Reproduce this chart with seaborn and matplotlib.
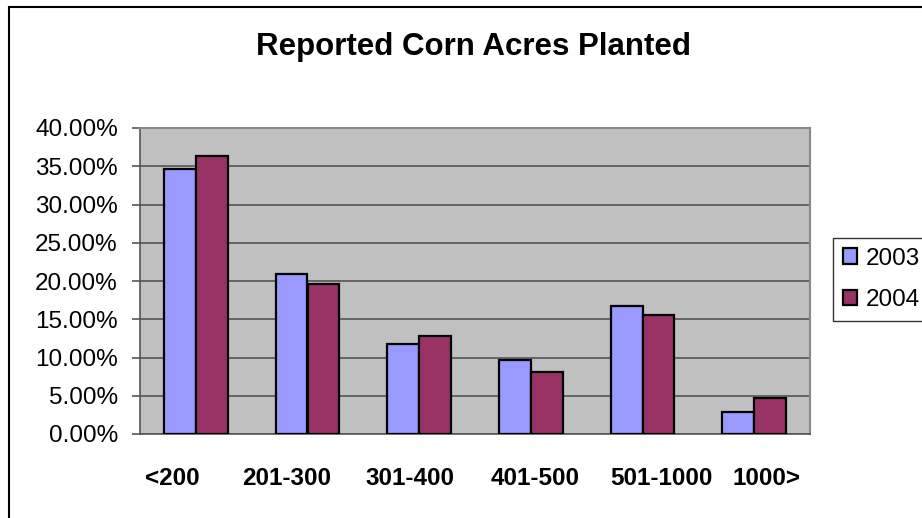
import matplotlib
matplotlib.use("Agg")
import matplotlib.pyplot as plt
import matplotlib.transforms as mtransforms
import seaborn as sns
import pandas as pd
from matplotlib.patches import Rectangle

categories = ["<200", "201-300", "301-400", "401-500", "501-1000", "1000>"]
values_2003 = [34.7, 20.9, 11.8, 9.7, 16.7, 2.9]
values_2004 = [36.3, 19.6, 12.8, 8.15, 15.5, 4.7]
series = ["2003", "2004"]
yticks = [0, 5, 10, 15, 20, 25, 30, 35, 40]

df = pd.DataFrame({
    "cat": categories * 2,
    "year": [series[0]] * len(categories) + [series[1]] * len(categories),
    "val": values_2003 + values_2004,
})

sns.set_theme(style="white")
plt.rcParams["font.family"] = ["Liberation Sans", "DejaVu Sans"]
plt.rcParams["text.color"] = "black"
plt.rcParams["xtick.color"] = "black"
plt.rcParams["ytick.color"] = "black"

fig = plt.figure(figsize=(9.22, 5.18), dpi=100)
ax = fig.add_axes([140 / 922, 1 - 434 / 518, (810 - 140) / 922, (434 - 128) / 518])

sns.barplot(data=df, x="cat", y="val", hue="year", order=categories,
            hue_order=series, palette=["#9999FF", "#993366"], saturation=1,
            width=0.57, edgecolor="black", linewidth=1.6, ax=ax, zorder=3)

ax.set_facecolor("#C0C0C0")
ax.set_ylim(0, 40)
ax.set_xlim(-0.5, len(categories) - 0.5)
ax.set_yticks(yticks)
ax.set_yticklabels([f"{v:.2f}%" for v in yticks], fontsize=17.5)
ax.yaxis.grid(True, color="#555555", linewidth=1.2, zorder=0)
ax.set_axisbelow(True)
ax.tick_params(axis="y", direction="out", length=6, width=1.2,
               left=True, pad=10, labelcolor="black")
ax.tick_params(axis="y", color="#555555")
ax.tick_params(axis="x", length=0, pad=23.5, labelcolor="black")

# Excel-style uneven label placement (pixel offsets from group centres)
label_dx_px = [-24, -20.5, -9, 4, 19, 12]
for lbl, dx in zip(ax.get_xticklabels(), label_dx_px):
    lbl.set_fontweight("bold")
    lbl.set_fontsize(17.5)
    lbl.set_transform(lbl.get_transform() +
                      mtransforms.ScaledTranslation(dx / 100, 0, fig.dpi_scale_trans))
ax.set_xlabel("")
ax.set_ylabel("")
for s in ["left", "bottom"]:
    ax.spines[s].set_color("#555555")
    ax.spines[s].set_linewidth(1.2)
for s in ["top", "right"]:
    ax.spines[s].set_color("#888888")
    ax.spines[s].set_linewidth(1.5)

leg = ax.legend(loc="upper left", bbox_to_anchor=(833 / 922, 1 - 238 / 518),
                bbox_transform=fig.transFigure, fontsize=17.5, frameon=True,
                fancybox=False, edgecolor="black", handlelength=0.6,
                handleheight=0.6, handletextpad=0.35, borderpad=0.4,
                labelspacing=0.8, borderaxespad=0)
leg.get_frame().set_linewidth(1.0)
leg.get_frame().set_facecolor("white")
for t in leg.get_texts():
    t.set_color("black")

fig.text(473 / 922, 1 - 47 / 518, "Reported Corn Acres Planted",
         ha="center", va="center", fontsize=22.5, fontweight="bold")

fig.patches.append(Rectangle((9 / 922, -0.1), 1.2, 1 - 7 / 518 + 0.1,
                             transform=fig.transFigure, fill=False,
                             edgecolor="black", linewidth=1.5))

fig.savefig("out.png", dpi=100)
